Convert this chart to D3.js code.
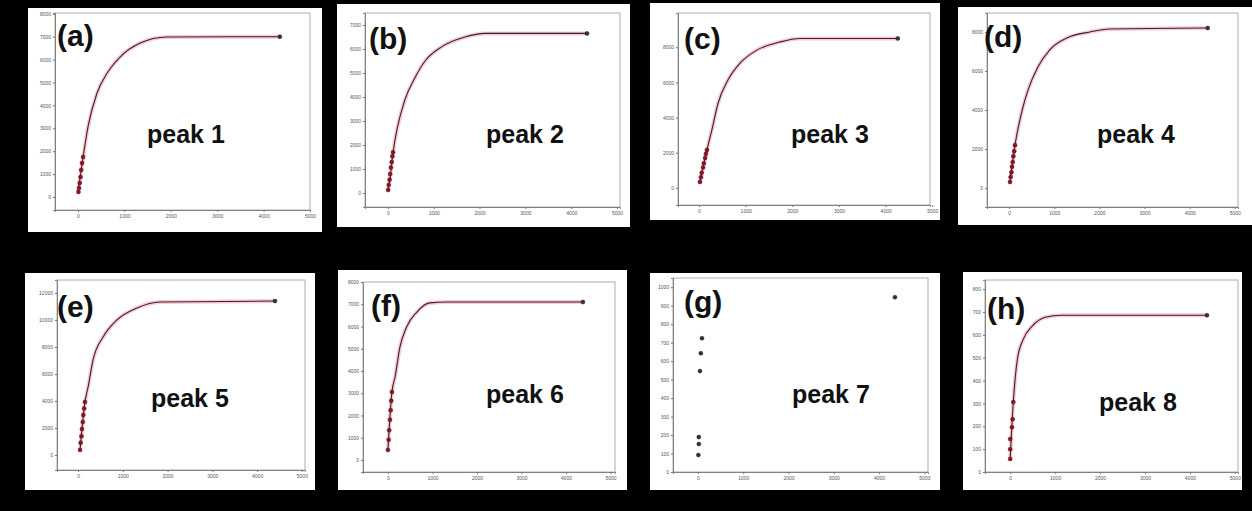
<!DOCTYPE html>
<html><head><meta charset="utf-8">
<script src="https://cdn.jsdelivr.net/npm/d3@7/dist/d3.min.js"></script>
<style>html,body{margin:0;padding:0;background:#000;overflow:hidden}svg{display:block}</style>
</head><body>
<svg id="chart" width="1252" height="511"></svg>
<script>
// ---------- data ----------
const panelTags = ["(a)","(b)","(c)","(d)","(e)","(f)","(g)","(h)"];
const peakLabels = ["peak 1","peak 2","peak 3","peak 4","peak 5","peak 6","peak 7","peak 8"];
const xTickValues = [0,1000,2000,3000,4000,5000];

const yTicksA = [0,1000,2000,3000,4000,5000,6000,7000,8000];
const yTicksB = [0,1000,2000,3000,4000,5000,6000,7000];
const yTicksC = [0,2000,4000,6000,8000];
const yTicksD = [0,2000,4000,6000,8000];
const yTicksE = [0,2000,4000,6000,8000,10000,12000];
const yTicksF = [0,1000,2000,3000,4000,5000,6000,7000,8000];
const yTicksG = [0,100,200,300,400,500,600,700,800,900,1000];
const yTicksH = [0,100,200,300,400,500,600,700,800];

// fitted curves (samples)
const fitXA = [0,110,215,410,625,905,1340,1910,4350];
const fitYA = [220,1750,3060,4540,5400,6110,6720,6990,7000];
const fitXB = [0,40,110,370,590,810,1180,1680,2120,4345];
const fitYB = [125,540,1660,3875,4800,5500,6100,6500,6650,6650];
const fitXC = [20,170,280,410,620,880,1240,1730,2160,4260];
const fitYC = [340,2160,3350,4830,6140,7100,7840,8300,8500,8500];
const fitXD = [20,130,290,420,640,900,1280,1790,2230,4400];
const fitYD = [310,2200,4000,5030,6210,7080,7690,8000,8150,8200];
const fitXE = [45,155,225,335,560,870,1320,1830,4400];
const fitYE = [370,3930,5040,7040,8740,10000,10890,11330,11400];
const fitXF = [0,90,160,270,420,650,940,1330,4380];
const fitYF = [450,3060,3730,5080,5980,6650,7060,7100,7100];
const fitXH = [0,70,160,290,490,780,1150,4380];
const fitYH = [57,306,493,580,638,677,686,686];

// measured points
const ptXA = [10,22,38,55,68,87,110,4350];
const ptYA = [220,390,610,870,1180,1480,1750,7000];
const ptXB = [5,18,36,48,66,82,97,112,4345];
const ptYB = [130,340,560,790,1060,1290,1530,1700,6650];
const ptXC = [20,42,58,86,104,131,148,170,4260];
const ptYC = [340,610,860,1160,1410,1710,1940,2160,8500];
const ptXD = [20,33,52,64,81,93,112,130,4400];
const ptYD = [310,570,810,1090,1330,1630,1890,2200,8200];
const ptXE = [45,58,76,88,106,118,137,155,4400];
const ptYE = [370,910,1390,1920,2440,2960,3440,3930,11400];
const ptXF = [0,16,28,46,61,74,90,4380];
const ptYF = [450,910,1340,1810,2240,2660,3060,7100];
const ptXG = [10,20,20,45,65,90,4350];
const ptYG = [92,151,189,546,643,724,946];
const ptXH = [0,0,0,40,55,70,4380];
const ptYH = [57,100,144,196,231,306,686];

// ---------- layout (positions only) ----------
const layout = [
  {box:[28,8,294,224],  plot:[55,13,310,210],   xd:[-496,5000], yd:[-568,8035],  tag:[57,46],   peak:[147,143]},
  {box:[337,4,293,223], plot:[365,13,620,207],  xd:[-500,5065], yd:[-580,7500],  tag:[369,49],  peak:[486,143]},
  {box:[650,3,290,217], plot:[678,13,930,205],  xd:[-450,4950], yd:[-970,9950],  tag:[684,49],  peak:[791,143]},
  {box:[958,7,294,218], plot:[987,13,1238,207], xd:[-490,5070], yd:[-970,8970],  tag:[984,47],  peak:[1097,143]},
  {box:[25,273,290,217],plot:[57,280,305,470],  xd:[-470,5070], yd:[-1110,12960],tag:[57,317],  peak:[151,407]},
  {box:[338,270,289,220],plot:[363,282,615,472],xd:[-560,5100], yd:[-540,8000],  tag:[371,316], peak:[486,403]},
  {box:[650,273,290,217],plot:[673,278,928,472],xd:[-550,5080], yd:[0,1050],    tag:[684,312], peak:[792,403]},
  {box:[963,272,279,218],plot:[985,280,1238,472],xd:[-560,5070],yd:[0,840],     tag:[987,319], peak:[1099,411]}
];

const yTicksAll = [yTicksA,yTicksB,yTicksC,yTicksD,yTicksE,yTicksF,yTicksG,yTicksH];
const fits = [[fitXA,fitYA],[fitXB,fitYB],[fitXC,fitYC],[fitXD,fitYD],[fitXE,fitYE],[fitXF,fitYF],null,[fitXH,fitYH]];
const pts = [[ptXA,ptYA],[ptXB,ptYB],[ptXC,ptYC],[ptXD,ptYD],[ptXE,ptYE],[ptXF,ptYF],[ptXG,ptYG],[ptXH,ptYH]];

const svg = d3.select("#chart");
svg.append("rect").attr("width",1252).attr("height",511).attr("fill","#000");

layout.forEach((L,i)=>{
  const g = svg.append("g");
  g.append("rect").attr("x",L.box[0]).attr("y",L.box[1]).attr("width",L.box[2]).attr("height",L.box[3]).attr("fill","#fff");
  const x = d3.scaleLinear().domain(L.xd).range([L.plot[0],L.plot[2]]);
  const y = d3.scaleLinear().domain(L.yd).range([L.plot[3],L.plot[1]]);
  g.append("rect").attr("x",L.plot[0]).attr("y",L.plot[1])
    .attr("width",L.plot[2]-L.plot[0]).attr("height",L.plot[3]-L.plot[1])
    .attr("fill","none").attr("stroke","#9a9a9a").attr("stroke-width",0.8);
  const fmt = d3.format("d");
  const xa = g.append("g").attr("transform",`translate(0,${L.plot[3]})`)
    .call(d3.axisBottom(x).tickValues(xTickValues).tickSize(2).tickPadding(2).tickFormat(fmt));
  const ya = g.append("g").attr("transform",`translate(${L.plot[0]},0)`)
    .call(d3.axisLeft(y).tickValues(yTicksAll[i]).tickSize(2).tickPadding(2).tickFormat(fmt));
  [xa,ya].forEach(a=>{
    a.select(".domain").attr("stroke","#777").attr("stroke-width",0.9);
    a.selectAll(".tick line").attr("stroke","#777");
    a.selectAll("text").attr("font-size",5).attr("fill","#555").attr("font-family","Liberation Sans, Arial, sans-serif");
  });
  if (fits[i]) {
    const [fx,fy] = fits[i];
    const data = fx.map((v,k)=>[v,fy[k]]);
    const line = d3.line().x(d=>x(d[0])).y(d=>y(d[1])).curve(d3.curveMonotoneX);
    g.append("path").attr("d",line(data)).attr("fill","none").attr("stroke","#f07a8e").attr("stroke-width",4).attr("stroke-opacity",0.4);
    g.append("path").attr("d",line(data)).attr("fill","none").attr("stroke","#3a2228").attr("stroke-width",1.1);
  }
  const [px,py] = pts[i];
  const pd = px.map((v,k)=>[v,py[k]]);
  g.selectAll("circle.p").data(pd).enter().append("circle")
    .attr("cx",d=>x(d[0])).attr("cy",d=>y(d[1])).attr("r",2)
    .attr("fill",(d,k)=> (i===6 || k===pd.length-1) ? "#333" : "#8a1428")
    .attr("stroke",(d,k)=> (i===6 || k===pd.length-1) ? "#222" : "#5a0a18").attr("stroke-width",0.5);
  g.append("text").attr("x",L.tag[0]).attr("y",L.tag[1]).text(panelTags[i])
    .attr("font-family","Liberation Sans, Arial, sans-serif").attr("font-weight","bold").attr("font-size",30).attr("fill","#111");
  g.append("text").attr("x",L.peak[0]).attr("y",L.peak[1]).text(peakLabels[i])
    .attr("font-family","Liberation Sans, Arial, sans-serif").attr("font-weight","bold").attr("font-size",25).attr("fill","#111");
});
</script>
</body></html>
